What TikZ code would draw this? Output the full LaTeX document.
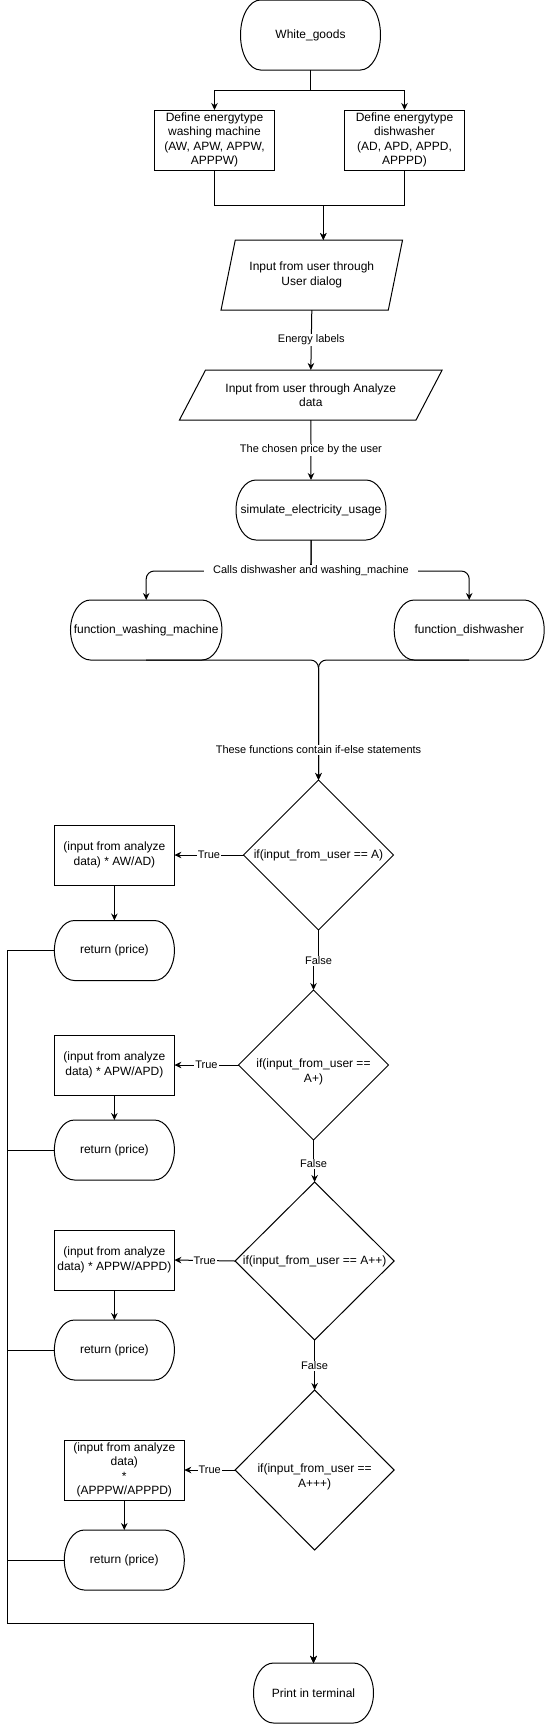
\documentclass[tikz,border=0pt]{standalone}
\usepackage{fontspec}
\setmainfont{Liberation Sans}
\usetikzlibrary{shapes.geometric,arrows.meta}

\begin{document}
\begin{tikzpicture}[x=1pt,y=-1pt,line width=1pt,>={Stealth[length=7pt,width=6.5pt]},
	terminal/.style={shape=rectangle,outer sep=0pt,minimum width=120pt,minimum height=#1,align=center,font=\fontsize{12}{14.4}\selectfont,
		append after command={\pgfextra{\draw ([xshift=20pt]\tikzlastnode.north west) -- ([xshift=-20pt]\tikzlastnode.north east)
			arc[start angle=90,end angle=-90,x radius=20pt,y radius=#1/2] -- ([xshift=20pt]\tikzlastnode.south west)
			arc[start angle=270,end angle=90,x radius=20pt,y radius=#1/2] -- cycle;}}},
	terminal/.default=60pt,
	process/.style={shape=rectangle,draw,outer sep=0pt,minimum width=120pt,minimum height=60pt,inner xsep=0pt,inner ysep=1pt,align=center,font=\fontsize{12}{14.4}\selectfont},
	io/.style={shape=trapezium,draw,outer sep=0pt,trapezium stretches body,align=center,inner sep=1pt,font=\fontsize{12}{14.4}\selectfont},
	decision/.style={shape=diamond,draw,outer sep=0pt,minimum width=150pt,minimum height=150pt,inner sep=0pt},
	condtext/.style={align=center,font=\fontsize{12}{14.4}\selectfont},
	lbl/.style={fill=white,inner sep=1pt,font=\fontsize{11}{13}\selectfont}]
	\useasboundingbox (0,0) rectangle (545,1724);

	\node (whiteGoods) at (310.5,35)[terminal=70pt,minimum width=140pt] {White\_goods};
	\node (defineWashing) at (214.5,140)[process] {Define energytype\\washing machine\\(AW, APW, APPW,\\APPPW)};
	\node (defineDish) at (404.5,140)[process] {Define energytype\\dishwasher\\(AD, APD, APPD,\\APPPD)};
	\node (userDialog) at (311.8,275)[io,trapezium left angle=62.7,trapezium right angle=117.3,minimum width=181.5pt,minimum height=70pt] {Input from user through\\User dialog};
	\node (analyzeData) at (310.8,395)[io,trapezium left angle=44,trapezium right angle=136,minimum width=262.7pt,minimum height=50pt] {Input from user through Analyze\\data};
	\node (simulate) at (311,510)[terminal,minimum width=150pt] {simulate\_electricity\_usage};
	\node (funcWashing) at (146.2,630)[terminal,minimum width=150pt] {function\_washing\_machine};
	\node (funcDish) at (469.2,630)[terminal,minimum width=150pt] {function\_dishwasher};

	\node (ifA) at (318.5,855)[decision,label={[condtext]center:if(input\_from\_user == A)}] {};
	\node (ifAPlus) at (313.5,1065)[decision,label={[condtext,yshift=-7pt]center:if(input\_from\_user ==\\A+)}] {};
	\node (ifAPP) at (314.6,1261)[decision,minimum width=159pt,minimum height=158pt,label={[condtext]center:if(input\_from\_user == A++)}] {};
	\node (ifAPPP) at (314.6,1470)[decision,minimum width=159pt,minimum height=160pt,label={[condtext,yshift=-7pt]center:if(input\_from\_user ==\\A+++)}] {};

	\node (calcA) at (114.4,855)[process] {(input from analyze\\data) * AW/AD)};
	\node (returnA) at (114.4,950.5)[terminal] {return (price)};
	\node (calcAPlus) at (114.4,1065)[process] {(input from analyze\\data) * APW/APD)};
	\node (returnAPlus) at (114.4,1150)[terminal] {return (price)};
	\node (calcAPP) at (114.4,1260)[process] {(input from analyze\\data) * APPW/APPD)};
	\node (returnAPP) at (114.4,1350)[terminal] {return (price)};
	\node (calcAPPP) at (124.3,1470)[process] {(input from analyze\\data)\\*\\(APPPW/APPPD)};
	\node (returnAPPP) at (124.3,1560)[terminal] {return (price)};

	\node (printTerm) at (313.5,1693)[terminal] {Print in terminal};
	\coordinate (busCorner) at (7,1623);

	\draw[->] (whiteGoods.south) -- ++(0,20) -| (defineWashing.north);
	\draw[->] (whiteGoods.south) -- ++(0,20) -| (defineDish.north);
	\draw[->] (defineWashing.south) -- ++(0,35) -| ([xshift=11.5pt]userDialog.north);
	\draw[->] (defineDish.south) -- ++(0,35) -| ([xshift=11.5pt]userDialog.north);
	\draw[->] (userDialog.south) -- node[lbl] {Energy labels} (analyzeData.north);
	\draw[->] (analyzeData.south) -- node[lbl] {The chosen price by the user} (simulate.north);

	\draw[->,rounded corners=8pt] (simulate.south) -- ++(0,31) -| (funcWashing.north);
	\draw[->,rounded corners=8pt] (simulate.south) -- ++(0,31) -| (funcDish.north);
	\node (callsLabel) at (311,571)[lbl,inner xsep=9pt] {Calls dishwasher and washing\_machine};

	\draw[->,rounded corners=8pt] (funcWashing.south) -| (ifA.north);
	\draw[->,rounded corners=8pt] (funcDish.south) -| (ifA.north);
	\node (ifElseLabel) at (318.5,750)[lbl] {These functions contain if-else statements};

	\draw[->] (ifA.west) -- node[lbl] {True} (calcA.east);
	\draw[->] (ifAPlus.west) -- node[lbl] {True} (calcAPlus.east);
	\draw[->] (ifAPP.west) -- node[lbl] {True} (calcAPP.east);
	\draw[->] (ifAPPP.west) -- node[lbl] {True} (calcAPPP.east);

	\draw[->] (ifA.south) -- ++(0,31) node[lbl] {False} -| (ifAPlus.north);
	\draw[->] (ifAPlus.south) -- ++(0,24) node[lbl] {False} -| (ifAPP.north);
	\draw[->] (ifAPP.south) -- ++(0,26) node[lbl] {False} -| (ifAPPP.north);

	\draw[->] (calcA.south) -- (returnA.north);
	\draw[->] (calcAPlus.south) -- (returnAPlus.north);
	\draw[->] (calcAPP.south) -- (returnAPP.north);
	\draw[->] (calcAPPP.south) -- (returnAPPP.north);

	\draw[->] (returnA.west) -| (busCorner) -| (printTerm.north);
	\draw[->] (returnAPlus.west) -| (busCorner) -| (printTerm.north);
	\draw[->] (returnAPP.west) -| (busCorner) -| (printTerm.north);
	\draw[->] (returnAPPP.west) -| (busCorner) -| (printTerm.north);
\end{tikzpicture}
\end{document}
